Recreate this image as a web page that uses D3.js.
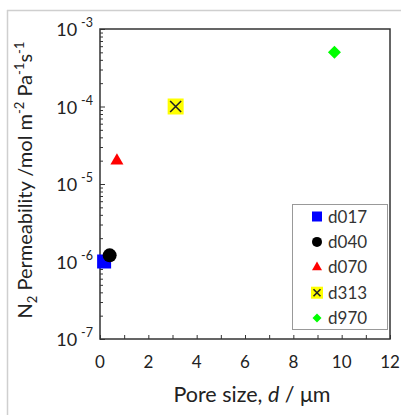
<!DOCTYPE html>
<html><head><meta charset="utf-8">
<script src="https://cdn.jsdelivr.net/npm/d3@7"></script>
<style>
html,body{margin:0;padding:0;background:#fff;}
svg{display:block;font-family:Lato,"Open Sans",sans-serif;}
</style></head>
<body><svg id="c" width="401" height="415"></svg>
<script>
const samples = ["d017","d040","d070","d313","d970"];
const poreSize = [0.17, 0.40, 0.70, 3.13, 9.70];
const permeability = [1.0e-6, 1.2e-6, 2.0e-5, 1.0e-4, 5.0e-4];
const colors = ["#0000ff","#000000","#ff0000","#ffff00","#00ff00"];
const shapes = ["square","circle","triangle","xsquare","diamond"];
const yTickExps = [-7,-6,-5,-4,-3];
const xTickLabels = [0,2,4,6,8,10,12];

const svg = d3.select("#c");
const L=100, R=390, T=29, B=339;
const x = d3.scaleLinear().domain([0,12]).range([L,R]);
const y = d3.scaleLog().domain([1e-7,1e-3]).range([B,T]);

// outer frame
svg.append("line").attr("x1",7.5).attr("x2",7.5).attr("y1",10).attr("y2",415).attr("stroke","#cfcfcf").attr("stroke-width",1.5);
svg.append("line").attr("x1",7).attr("x2",401).attr("y1",10.5).attr("y2",10.5).attr("stroke","#cfcfcf").attr("stroke-width",1.5);

// y axis ticks
const minor=[];
for(let e=-7;e<-3;e++) for(let m=2;m<=9;m++) minor.push(m*Math.pow(10,e));
const yAxis = svg.append("g").attr("transform",`translate(${L},0)`)
  .call(d3.axisRight(y).tickValues(minor).tickSize(3).tickFormat(""));
yAxis.select(".domain").remove();
yAxis.selectAll("line").attr("stroke","#333");
const yMaj = svg.append("g").attr("transform",`translate(${L},0)`)
  .call(d3.axisRight(y).tickValues(yTickExps.map(e=>Math.pow(10,e))).tickSize(5).tickFormat(""));
yMaj.select(".domain").remove();
yMaj.selectAll("line").attr("stroke","#333");

// x axis ticks
const xAx = svg.append("g").attr("transform",`translate(0,${B})`)
  .call(d3.axisTop(x).tickValues(d3.range(0,13,1)).tickSize(4).tickFormat(""));
xAx.select(".domain").remove();
xAx.selectAll("line").attr("stroke","#333");

// plot frame
svg.append("rect").attr("x",L).attr("y",T).attr("width",R-L).attr("height",B-T)
  .attr("fill","none").attr("stroke","#333").attr("stroke-width",1.5);

// y tick labels
yTickExps.forEach(e=>{
  const t = svg.append("text").attr("x",93).attr("y",y(Math.pow(10,e))+7)
    .attr("text-anchor","end").attr("font-size",18).attr("fill","#222");
  t.append("tspan").text("10");
  t.append("tspan").attr("dx",4).attr("dy",-9).attr("font-size",12.5).text(String(e));
});
// x tick labels
xTickLabels.forEach(v=>{
  svg.append("text").attr("x",x(v)).attr("y",368).attr("text-anchor","middle")
    .attr("font-size",17).attr("fill","#222").text(v);
});

// axis titles
const xt = svg.append("text").attr("x",252).attr("y",402).attr("text-anchor","middle")
  .attr("font-size",21.5).attr("fill","#222");
xt.append("tspan").text("Pore size, ");
xt.append("tspan").attr("font-style","italic").text("d");
xt.append("tspan").text(" / μm");

const yt = svg.append("text").attr("transform","translate(32,180) rotate(-90)")
  .attr("text-anchor","middle").attr("font-size",20).attr("fill","#222");
yt.append("tspan").text("N");
yt.append("tspan").attr("dy",5).attr("font-size",13).text("2");
yt.append("tspan").attr("dy",-5).text(" Permeability /mol m");
yt.append("tspan").attr("dy",-8).attr("font-size",13).text("-2");
yt.append("tspan").attr("dy",8).text(" Pa");
yt.append("tspan").attr("dy",-8).attr("font-size",13).text("-1");
yt.append("tspan").attr("dy",8).text("s");
yt.append("tspan").attr("dy",-8).attr("font-size",13).text("-1");

function marker(g, shape, color, s){
  if(shape==="square"){
    g.append("path").attr("d",d3.symbol(d3.symbolSquare, s*s)()).attr("fill",color);
  } else if(shape==="circle"){
    g.append("path").attr("d",d3.symbol(d3.symbolCircle, Math.PI*(s/2)*(s/2))()).attr("fill",color);
  } else if(shape==="triangle"){
    const yy = s/(2*Math.sqrt(3));
    g.append("path").attr("d",d3.symbol(d3.symbolTriangle, yy*yy*3*Math.sqrt(3))()).attr("fill",color);
  } else if(shape==="diamond"){
    const side = s/Math.SQRT2;
    g.append("path").attr("d",d3.symbol(d3.symbolSquare, side*side)()).attr("transform","rotate(45)").attr("fill",color);
  } else if(shape==="xsquare"){
    g.append("path").attr("d",d3.symbol(d3.symbolSquare, s*s)()).attr("fill",color);
    const h = s/2-2.5;
    g.append("path").attr("d",`M${-h},${-h}L${h},${h}M${-h},${h}L${h},${-h}`)
      .attr("stroke","#222").attr("stroke-width",1.6).attr("fill","none");
  }
}

const sizes = {square:14, circle:14, triangle:13, xsquare:16, diamond:13};
const lsizes = {square:10, circle:10, triangle:10, xsquare:12, diamond:9};
samples.forEach((s,i)=>{
  const g = svg.append("g").attr("transform",`translate(${x(poreSize[i])},${y(permeability[i])})`);
  marker(g, shapes[i], colors[i], sizes[shapes[i]]);
});

// legend
svg.append("rect").attr("x",292.5).attr("y",204.5).attr("width",95).attr("height",125)
  .attr("fill","#fff").attr("stroke","#999").attr("stroke-width",1);
samples.forEach((s,i)=>{
  const cy = 216.5 + i*25.4;
  const g = svg.append("g").attr("transform",`translate(317,${cy})`);
  marker(g, shapes[i], colors[i], lsizes[shapes[i]]);
  svg.append("text").attr("x",328).attr("y",cy+6).attr("font-size",17).attr("fill","#333").text(s);
});
</script></body></html>
